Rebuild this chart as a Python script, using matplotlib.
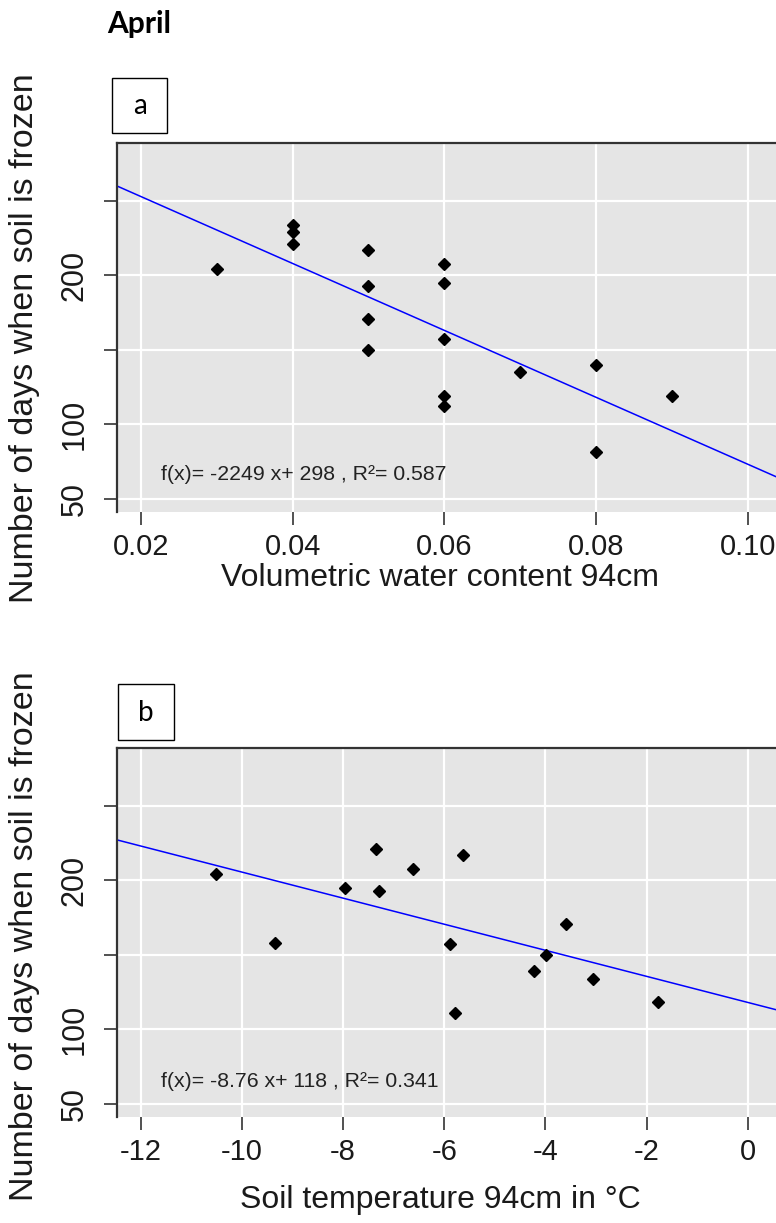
import matplotlib
matplotlib.use('Agg')
import matplotlib.pyplot as plt
from matplotlib.patches import Rectangle

# --- data ---
vwc = [0.03, 0.04, 0.04, 0.04, 0.05, 0.05, 0.05, 0.05,
       0.06, 0.06, 0.06, 0.06, 0.06, 0.07, 0.08, 0.08, 0.09]
days_a = [204, 234, 229, 221, 217, 193, 171, 150,
          208, 195, 157, 119, 112, 135, 140, 81, 119]
fit_a = (-2249, 298)
eq_a = 'f(x)= -2249 x+ 298 , R²= 0.587'

soil_temp = [-10.52, -9.35, -7.97, -7.35, -7.29, -6.61, -5.63, -5.89,
             -5.79, -4.22, -3.98, -3.60, -3.05, -1.78]
days_b = [204, 158, 195, 221, 193, 208, 217, 157,
          111, 139, 150, 171, 134, 118]
fit_b = (-8.76, 118)
eq_b = 'f(x)= -8.76 x+ 118 , R²= 0.341'

yticks = [50, 100, 150, 200, 250]
ytick_labels = ['50', '100', '', '200', '']
xticks_a = [0.02, 0.04, 0.06, 0.08, 0.10]
xtick_labels_a = ['0.02', '0.04', '0.06', '0.08', '0.10']
xticks_b = [-12, -10, -8, -6, -4, -2, 0]
xtick_labels_b = ['-12', '-10', '-8', '-6', '-4', '-2', '0']

W, H = 776, 1223
DPI = 100
fig = plt.figure(figsize=(W / DPI, H / DPI), dpi=DPI)
fig.patch.set_facecolor('white')


def px_axes(left, top, right, bottom):
    return fig.add_axes([left / W, 1 - bottom / H, (right - left) / W, (bottom - top) / H])


def fx(x):
    return x / W


def fy(y):
    return 1 - y / H


def panel(ax, xs, ys, fit, eq, xlim, xticks, eq_pos):
    ax.set_facecolor('#e5e5e5')
    ax.set_xlim(*xlim)
    ax.set_ylim(41, 289)
    ax.set_xticks(xticks)
    ax.set_yticks(yticks)
    ax.grid(True, color='white', linewidth=1.6)
    ax.set_axisbelow(True)
    for s in ['right', 'bottom']:
        ax.spines[s].set_visible(False)
    for s in ['left', 'top']:
        ax.spines[s].set_color('#333333')
        ax.spines[s].set_linewidth(1.6)
    ax.tick_params(length=9.5, width=1.2, color='#333333', labelleft=False, labelbottom=False)
    xl = list(xlim)
    ax.plot(xl, [fit[0] * v + fit[1] for v in xl], color='#0000ff', linewidth=1.1)
    ax.plot(xs, ys, 'D', color='black', markersize=6.5)
    ax.text(eq_pos[0], eq_pos[1], eq, fontsize=15.3, color='#222222',
            family='Liberation Sans', va='center')


xtick_font = dict(fontsize=21, color='#1a1a1a', family='Liberation Sans')
ytick_font = dict(fontsize=22, color='#1a1a1a', family='Liberation Sans')
label_font = dict(fontsize=23, color='#1a1a1a', family='Liberation Sans')
ylabel_font = dict(fontsize=24.5, color='#1a1a1a', family='Liberation Sans')

# panel a
ax1 = px_axes(117, 143, 776, 512)
panel(ax1, vwc, days_a, fit_a, eq_a, (0.01685, 0.10372), xticks_a, (0.0226, 66))
# panel b
ax2 = px_axes(117, 748, 776, 1117)
panel(ax2, soil_temp, days_b, fit_b, eq_b, (-12.47, 0.558), xticks_b, (-11.61, 65))

# tick labels drawn as text at the tick positions
for ax, ticks, labels, lab_y in [(ax1, xticks_a, xtick_labels_a, 547),
                                 (ax2, xticks_b, xtick_labels_b, 1152)]:
    for t, lab in zip(ticks, labels):
        ax.annotate(lab, xy=(t, 0), xycoords=('data', 'figure fraction'),
                    xytext=(t, fy(lab_y)), textcoords=('data', 'figure fraction'),
                    ha='center', va='center', **xtick_font)
    for t, lab in zip(yticks, ytick_labels):
        ax.annotate(lab, xy=(0, t), xycoords=('figure fraction', 'data'),
                    xytext=(fx(75), t), textcoords=('figure fraction', 'data'),
                    ha='center', va='center', rotation=90, **ytick_font)

fig.text(fx(440), fy(578), 'Volumetric water content 94cm', ha='center', va='center', **label_font)
fig.text(fx(440), fy(1200), 'Soil temperature 94cm in °C', ha='center', va='center', **label_font)
fig.text(fx(25), fy(338), 'Number of days when soil is frozen', ha='center', va='center',
         rotation=90, **ylabel_font)
fig.text(fx(25), fy(936), 'Number of days when soil is frozen', ha='center', va='center',
         rotation=90, **ylabel_font)

fig.text(fx(107), fy(24), 'April', ha='left', va='center', fontsize=21.5,
         fontweight='bold', family='Lato')

# boxed panel letters
for (l, t, r, b), letter in [((112, 78, 167, 133), 'a'), ((118, 684, 174, 740), 'b')]:
    fig.patches.append(Rectangle((fx(l), fy(b)), (r - l) / W, (b - t) / H,
                                 transform=fig.transFigure, facecolor='white',
                                 edgecolor='black', linewidth=1.0))
    fig.text(fx((l + r) / 2), fy((t + b) / 2 + 1), letter, ha='center', va='center',
             fontsize=20, family='Lato')

fig.savefig('out.png', dpi=DPI)
